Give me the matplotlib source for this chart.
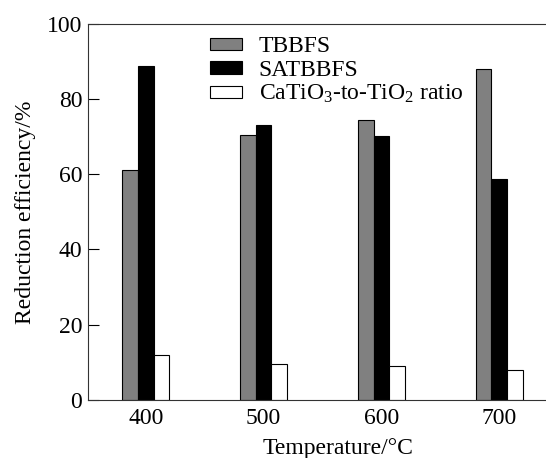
import matplotlib
matplotlib.use('Agg')
import numpy as np
from matplotlib import pyplot as plt

plt.rcParams['font.family'] = ['Liberation Serif', 'DejaVu Serif']
plt.rcParams['mathtext.fontset'] = 'custom'
plt.rcParams['mathtext.rm'] = 'Liberation Serif'
plt.rcParams['mathtext.it'] = 'Liberation Serif:italic'

# 还原温度与还原效率
temps = [400, 500, 600, 700]
tbbfs = [61.2, 70.3, 74.5, 88.0]
satbbfs = [88.8, 73.1, 70.2, 58.7]
ratio = [12.0, 9.7, 9.1, 8.0]

fig = plt.figure(figsize=(5.46, 4.58), dpi=100)
# 坐标区右侧超出画布
ax = fig.add_axes([0.161, 0.1266, 0.916, 0.8217])

x = np.array(temps, dtype=float)
w = 13.3
ax.bar(x - w, tbbfs, w, color='#808080', edgecolor='black', linewidth=0.8, label='TBBFS')
ax.bar(x, satbbfs, w, color='black', edgecolor='black', linewidth=0.8, label='SATBBFS')
ax.bar(x + w, ratio, w, color='white', edgecolor='black', linewidth=0.8,
       label='CaTiO$_3$-to-TiO$_2$ ratio')

ax.set_xlim(350.7, 775.6)
ax.set_ylim(0, 100)
ax.set_xticks(temps)
ax.set_yticks([0, 20, 40, 60, 80, 100])
ax.tick_params(axis='y', direction='in', length=8, width=0.8, labelsize=17, pad=4)
ax.tick_params(axis='x', length=0, labelsize=17, pad=6)
ax.spines['right'].set_visible(False)
for s in ['left', 'top', 'bottom']:
    ax.spines[s].set_linewidth(0.8)
    ax.spines[s].set_color('#333333')

ax.set_xlabel('Temperature/°C', fontsize=17, labelpad=6)
ax.set_ylabel('Reduction efficiency/%', fontsize=17, labelpad=8)

ax.legend(loc='upper left', bbox_to_anchor=(0.244, 0.966), frameon=False, fontsize=17,
          handlelength=1.34, handleheight=0.42, labelspacing=0.1, handletextpad=0.72,
          borderpad=0, borderaxespad=0)

plt.savefig('out.png', dpi=100)
